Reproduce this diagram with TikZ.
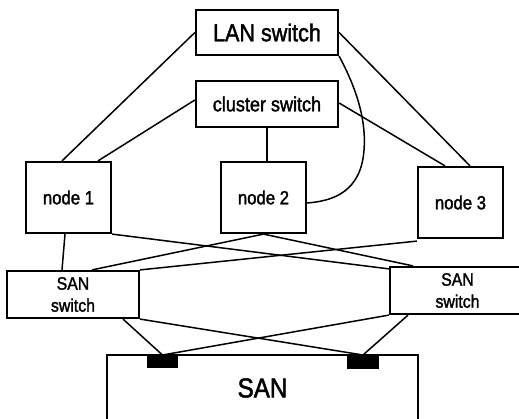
\documentclass[tikz,border=0pt]{standalone}
\usepackage{fontspec}
\setmainfont{Liberation Sans}[FakeStretch=0.88,FakeBold=1.7]
\begin{document}
\begin{tikzpicture}[x=1pt,y=-1pt,
  box/.style={draw,line width=2.2pt,rectangle,inner sep=0pt,align=center},
  link/.style={line width=1.5pt},
  port/.style={fill=black,draw=none,rectangle,inner sep=0pt},
  bigtext/.style={font=\fontsize{24.5}{26}\selectfont},
  midtext/.style={font=\fontsize{20.5}{23}\selectfont},
  nodetext/.style={font=\fontsize{19}{22}\selectfont},
  smalltext/.style={font=\fontsize{18}{22}\selectfont},
  santext/.style={font=\fontsize{27.5}{30}\selectfont}]
\clip (0,0) rectangle (519,419);

% switches at the top
\node[box,bigtext,minimum width=142pt,minimum height=45pt] (lan) at (267,32.5) {LAN switch};
\node[box,midtext,minimum width=142pt,minimum height=46pt] (cl) at (267,104) {cluster switch};

% cluster nodes
\node[box,nodetext,minimum width=85pt,minimum height=71pt] (n1) at (68.5,197.5) {node 1};
\node[box,nodetext,minimum width=85pt,minimum height=71pt] (n2) at (263.5,197.5) {node 2};
\node[box,nodetext,minimum width=85pt,minimum height=71pt] (n3) at (460.5,202.5) {node 3};

% SAN switches
\node[box,smalltext,minimum width=132pt,minimum height=47pt] (ssl) at (73,294.5) {SAN\\switch};
\node[box,smalltext,minimum width=135pt,minimum height=47pt] (ssr) at (457.5,290.5) {SAN\\switch};

% storage array with its two ports
\node[box,santext,minimum width=311pt,minimum height=66pt] (san) at (262.5,388) {SAN};
\node[port,minimum width=31pt,minimum height=13pt,anchor=north] (portl) at (162.5,355) {};
\node[port,minimum width=32pt,minimum height=14pt,anchor=north] (portr) at (363,355) {};

% LAN links
\draw[link] (lan.west) -- ([xshift=-6.5pt]n1.north);
\draw[link] (lan.east) -- ([xshift=9.5pt]n3.north);
\draw[link] (lan.south east) .. controls (360,95) and (366,125) .. (364,150)
  .. controls (361,192) and (333,201) .. ([yshift=-5.5pt]n2.east);

% cluster interconnect
\draw[link] ([yshift=4pt]cl.west) -- ([xshift=29.5pt]n1.north);
\draw[link] (cl.south) -- (cl.south |- n2.north);
\draw[link] ([yshift=1pt]cl.east) -- ([xshift=-15.5pt]n3.north);

% nodes to SAN switches
\draw[link] ([xshift=-3.5pt]n1.south) -- ([xshift=-11pt]ssl.north);
\draw[link] (n1.south east) -- ([yshift=-3pt]ssr.north west);
\draw[link] (n2.south) -- ([xshift=19pt]ssl.north);
\draw[link] (n2.south) -- ([xshift=-44.5pt]ssr.north);
\draw[link] ([yshift=-2pt]n3.south west) -- (ssl.north east);

% SAN switches to storage ports
\draw[link] ([xshift=50pt]ssl.south) -- (portl.north);
\draw[link] (ssl.south east) -- (portr.north);
\draw[link] (ssr.south west) -- (portl.north);
\draw[link] ([xshift=-49.5pt]ssr.south) -- (portr.north);
\end{tikzpicture}
\end{document}
